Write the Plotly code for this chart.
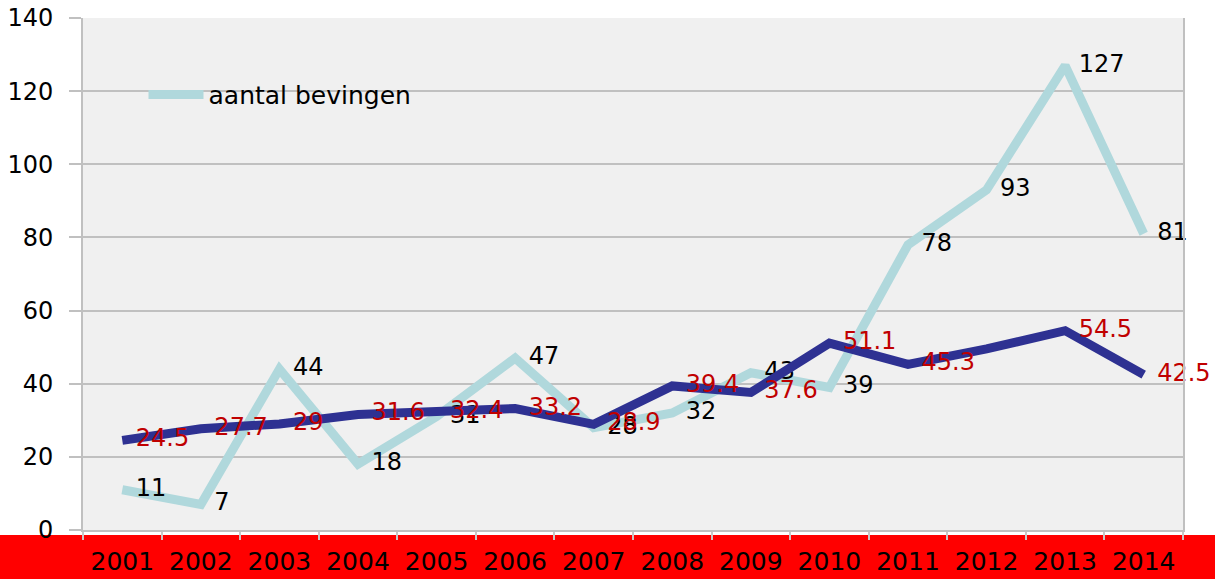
import plotly.graph_objects as go

years = ["2001", "2002", "2003", "2004", "2005", "2006", "2007",
         "2008", "2009", "2010", "2011", "2012", "2013", "2014"]
aantal = [11, 7, 44, 18, 31, 47, 28, 32, 43, 39, 78, 93, 127, 81]
aantal_labels = [str(v) for v in aantal]
tweede = [24.5, 27.7, 29, 31.6, 32.4, 33.2, 28.9, 39.4, 37.6, 51.1, 45.3, 49.5, 54.5, 42.5]
tweede_labels = ["24.5", "27.7", "29", "31.6", "32.4", "33.2", "28.9",
                 "39.4", "37.6", "51.1", "45.3", "", "54.5", "42.5"]
y_ticks = [0, 20, 40, 60, 80, 100, 120, 140]

FONT = "DejaVu Sans, Verdana, sans-serif"

fig = go.Figure()
fig.add_trace(go.Scatter(
    x=years, y=aantal, name="aantal bevingen", mode="lines+markers+text",
    line=dict(color="#b0d8dc", width=9),
    marker=dict(size=20, color="rgba(0,0,0,0)"),
    text=aantal_labels, textposition="middle right",
    textfont=dict(color="#000000", size=24, family=FONT),
    cliponaxis=False,
))
fig.add_trace(go.Scatter(
    x=years, y=tweede, name="gemiddelde", mode="lines+markers+text", showlegend=False,
    line=dict(color="#2e3192", width=9),
    marker=dict(size=20, color="rgba(0,0,0,0)"),
    text=tweede_labels, textposition="middle right",
    textfont=dict(color="#c00000", size=24, family=FONT),
    cliponaxis=False,
))

L, R, T, B = 83, 32, 18, 49
W, H = 1215, 579
pw, ph = W - L - R, H - T - B

fig.add_shape(type="rect", xref="paper", yref="paper",
              x0=-L / pw, x1=(W - L) / pw, y0=-B / ph, y1=-5 / ph,
              fillcolor="#ff0000", line=dict(width=0), layer="below")

fig.update_layout(
    width=W, height=H,
    margin=dict(l=L, r=R, t=T, b=B, autoexpand=False),
    paper_bgcolor="#ffffff", plot_bgcolor="#f0f0f0",
    font=dict(family=FONT, size=22, color="#000000"),
    showlegend=True,
    legend=dict(x=0.055, y=0.85, xanchor="left", yanchor="middle",
                bgcolor="rgba(0,0,0,0)", font=dict(size=25, family=FONT),
                itemwidth=55),
    xaxis=dict(type="category", range=[-0.5, len(years) - 0.5],
               showgrid=False, showline=True, automargin=False,
               linecolor="#c0c0c0", linewidth=2,
               ticks="outside", ticklen=8, tickwidth=2, tickcolor="#c8c8c8",
               tickson="boundaries", tickangle=0,
               tickfont=dict(size=25, family=FONT, color="#000000"),
               ticklabelstandoff=8),
    yaxis=dict(range=[0, 140], tickvals=y_ticks, showgrid=True, automargin=False,
               gridcolor="#c0c0c0", gridwidth=2,
               showline=True, mirror=True, linecolor="#c0c0c0", linewidth=2,
               ticks="outside", ticklen=12, tickwidth=2, tickcolor="#c0c0c0",
               zeroline=False,
               tickfont=dict(size=24, family=FONT, color="#000000"),
               ticklabelstandoff=11),
)

fig.write_html("out.html", config={"displayModeBar": False},
               post_script="document.body.style.margin='0px';document.body.style.overflow='hidden';")
